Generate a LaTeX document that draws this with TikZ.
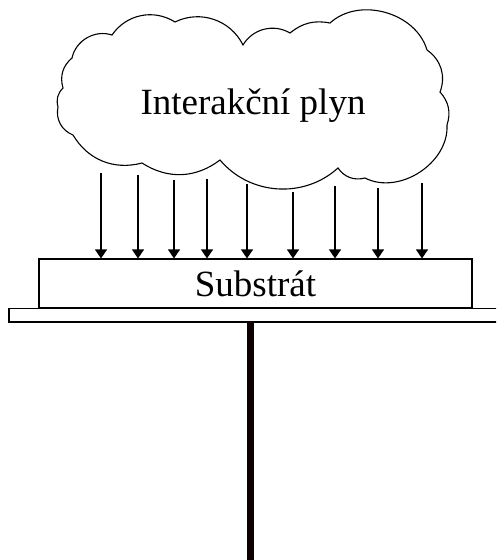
\documentclass[tikz,border=0pt]{standalone}
\usepackage{fontspec}
\setmainfont{Liberation Serif}
\usetikzlibrary{arrows.meta}

\begin{document}
\begin{tikzpicture}[x=1pt, y=-1pt,
    outline/.style={draw, line width=1.1pt},
    gasarrow/.style={line width=1.1pt, -{Triangle[width=12pt,length=9pt]}},
    substrat/.style={outline, minimum width=433pt, minimum height=49pt, inner sep=0pt, font=\fontsize{37}{40}\selectfont}]

    % page size of the reference
    \useasboundingbox (0,0) rectangle (496,560);
    \clip (0,0) rectangle (496,560);

    % the cloud of gas
    \draw[outline] (58,107)
        to[bend left=30] (63,88)
        to[bend left=33] (72,58)
        to[bend left=48] (112,35)
        to[bend left=44] (175,22)
        to[bend left=45] (243,45)
        to[bend left=45] (290,33)
        to[bend left=25] (330,23)
        to[bend left=58] (427,50)
        to[bend left=38] (440,92)
        to[bend left=30] (447,125)
        to[bend left=60] (365,178)
        to[bend left=35] (338,168)
        to[bend left=46] (220,160)
        to[bend left=35] (142,163)
        to[bend left=37] (73,135)
        to[bend left=40] cycle;
    \node[anchor=base, font=\fontsize{37}{40}\selectfont] (gas) at (253,114) {Interakční plyn};

    % substrate, holder plate and rod
    \node[substrat] (sub) at (255.5,283.5) {Substrát};
    \draw[outline] (sub.south west -| 9,0) rectangle (500,322);
    \coordinate (rodtop) at (250.5,322);
    \coordinate (rodend) at (250.5,560);
    \draw[line width=7pt, black!95!red] (rodtop) -- (rodend);

    % arrows from the gas to the substrate
    \foreach \i/\x/\y in {1/101/173, 2/138/175, 3/174/180, 4/207/179, 5/247/184,
                          6/293/192, 7/335/186, 8/378/188, 9/422/183} {
        \coordinate (g\i) at (\x,\y);
        \draw[gasarrow] (g\i) -- (g\i |- sub.north);
    }

\end{tikzpicture}
\end{document}
